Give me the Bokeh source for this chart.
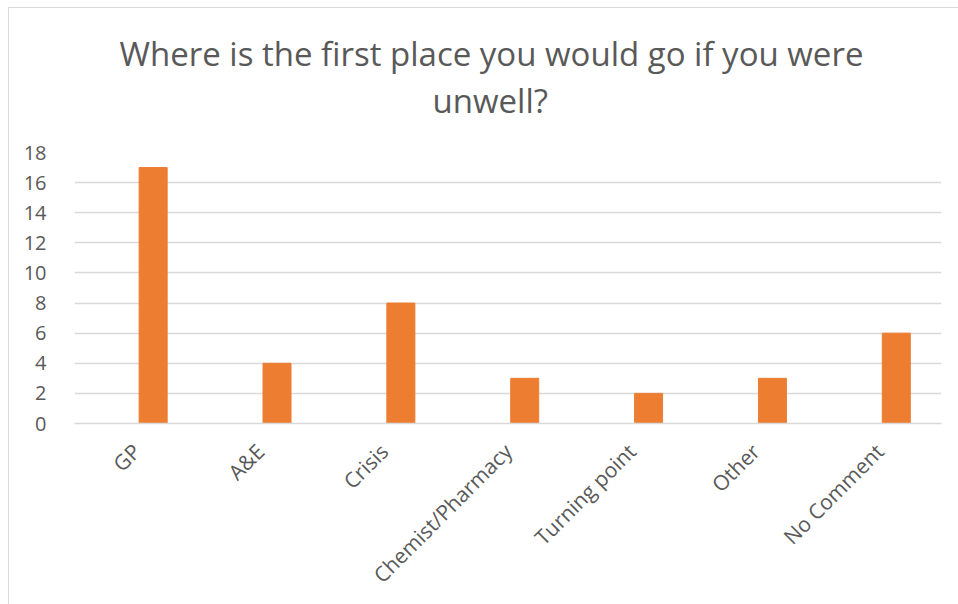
import math
from bokeh.plotting import figure
from bokeh.models import FactorRange, Range1d, FixedTicker, Title
from bokeh.transform import dodge
from bokeh.embed import file_html
from bokeh.resources import INLINE

categories = ["GP", "A&E", "Crisis", "Chemist/Pharmacy", "Turning point", "Other", "No Comment"]
counts = [17, 4, 8, 3, 2, 3, 6]
y_ticks = [0, 2, 4, 6, 8, 10, 12, 14, 16, 18]
title_lines = ["Where is the first place you would go if you were", "unwell?"]

FONT = "Open Sans"
TEXT = "#595959"
GRID = "#d9d9d9"
BAR = "#ED7D31"

p = figure(x_range=FactorRange(*categories, range_padding=0), y_range=Range1d(0, 18),
           width=950, height=597, output_backend="svg", toolbar_location=None,
           min_border_left=65, min_border_right=18, min_border_top=144, min_border_bottom=182)

p.vbar(x=dodge("cat", 0.135, range=p.x_range), top="val", width=0.226,
       source=dict(cat=categories, val=counts), fill_color=BAR, line_color=BAR)

# spacer between plot area and title
p.add_layout(Title(text=" ", text_font=FONT, text_font_size="21px", standoff=0), "above")
p.add_layout(Title(text=title_lines[1], align="left", text_font=FONT, text_font_size="33px",
                   text_color=TEXT, text_font_style="normal", standoff=0, offset=358), "above")
p.add_layout(Title(text=title_lines[0], align="left", text_font=FONT, text_font_size="33px",
                   text_color=TEXT, text_font_style="normal", standoff=0, offset=45), "above")

p.outline_line_color = None
p.background_fill_color = "white"
p.border_fill_color = "white"

p.xgrid.grid_line_color = None
p.ygrid.grid_line_color = GRID
p.ygrid.grid_line_width = 1.5

p.yaxis.ticker = FixedTicker(ticks=y_ticks)
p.yaxis.axis_line_color = None
p.yaxis.major_tick_line_color = None
p.yaxis.minor_tick_line_color = None
p.yaxis.major_label_text_font = FONT
p.yaxis.major_label_text_font_size = "20px"
p.yaxis.major_label_text_color = TEXT
p.yaxis.major_label_standoff = 22

p.xaxis.axis_line_color = GRID
p.xaxis.axis_line_width = 1.5
p.xaxis.major_tick_line_color = None
p.xaxis.minor_tick_line_color = None
p.xaxis.major_label_orientation = math.pi / 4
p.xaxis.major_label_text_font = FONT
p.xaxis.major_label_text_font_size = "21px"
p.xaxis.major_label_text_color = TEXT
p.xaxis.major_label_standoff = 18

p.styles = {"margin-left": "8px", "margin-top": "7px",
            "border-left": "1px solid #d9d9d9", "border-top": "1px solid #d9d9d9"}

open("out.html", "w").write(file_html(p, INLINE))
